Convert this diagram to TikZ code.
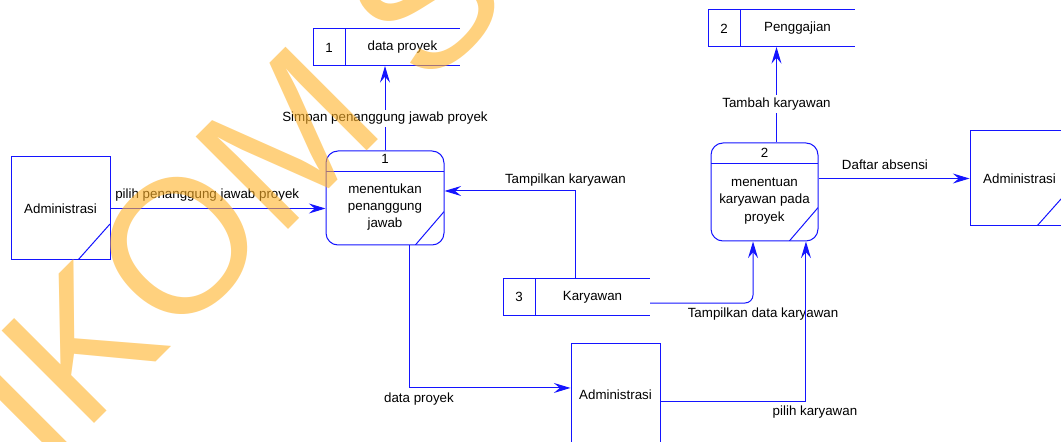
\documentclass[tikz,border=0pt]{standalone}
\usepackage{fontspec}
\setmainfont{Liberation Sans}
\usepackage{tikz}
\usetikzlibrary{arrows.meta,positioning}

\definecolor{dfdblue}{RGB}{20,20,255}
\definecolor{wmorange}{RGB}{255,178,40}

\tikzset{
  flow/.style={draw=dfdblue, line width=0.75pt, -{Stealth[length=12.5pt,width=7.5pt,inset=4.5pt]}},
  entity/.style={draw=dfdblue, line width=0.75pt, minimum width=74.25pt, minimum height=77.25pt, inner sep=0pt},
  entitycorner/.style={path picture={\draw[dfdblue, line width=0.75pt] ([xshift=-24pt]path picture bounding box.south east) -- ([yshift=27pt]path picture bounding box.south east);}},
  process/.style={draw=dfdblue, line width=0.75pt, rounded corners=9pt, inner sep=0pt,
    path picture={
      \draw[dfdblue, line width=0.75pt] ([yshift=-15.5pt]path picture bounding box.north west) -- ([yshift=-15.5pt]path picture bounding box.north east);
      \draw[dfdblue, line width=0.75pt] ([xshift=-21.5pt]path picture bounding box.south east) -- ([yshift=25pt]path picture bounding box.south east);}},
  proctext/.style={align=center, font=\fontsize{10}{13}\selectfont},
  storenum/.style={draw=dfdblue, line width=0.75pt, minimum width=24pt, minimum height=27.75pt, inner sep=0pt, outer sep=0pt},
  storename/.style={minimum width=86.25pt, minimum height=27.75pt, inner sep=0pt, outer sep=0pt,
    append after command={\pgfextra{\draw[dfdblue, line width=0.75pt] (\tikzlastnode.north west) -- (\tikzlastnode.north east) (\tikzlastnode.south west) -- (\tikzlastnode.south east);}}},
  wmark/.style={rotate=45, scale=14.25, inner sep=0pt, text=wmorange, text opacity=0.6, font=\fontsize{10}{12}\selectfont}
}

\begin{document}
\begin{tikzpicture}[x=0.75pt,y=-0.75pt]
    % Page size
    \useasboundingbox (0,0) rectangle (1061,442);
    \clip (0,0) rectangle (1061,442);

    % External entities
    \node[entity, entitycorner] (admA) at (60.5,208.5) {Administrasi};
    \node[entity, entitycorner, minimum height=71.25pt] (admB) at (1019.5,178.5) {Administrasi};
    \node[entity, minimum width=66.75pt] (admC) at (615.5,394.5) {Administrasi};

    % Process 1
    \node[process, minimum width=88.5pt, minimum height=70.5pt] (p1) at (385,198) {};
    \node (p1num) at ([yshift=-6.5pt]p1.north) {1};
    \node[proctext] (p1txt) at ([yshift=-6.75pt]p1.center) {menentukan\\penanggung\\jawab};

    % Process 2
    \node[process, minimum width=80.25pt, minimum height=73.5pt] (p2) at (764.5,192) {};
    \node (p2num) at ([yshift=-7.5pt]p2.north) {2};
    \node[proctext] (p2txt) at ([yshift=-6.75pt]p2.center) {menentuan\\karyawan pada\\proyek};

    % Data stores
    \node[storenum] (s1num) at (329,47.5) {1};
    \node[storename, right=0pt of s1num] (s1) {data proyek};
    \node[storenum] (s2num) at (724,28.5) {2};
    \node[storename, right=0pt of s2num] (s2) {Penggajian};
    \node[storenum] (s3num) at (519,297) {3};
    \node[storename, right=0pt of s3num] (s3) {Karyawan};

    % Flows of process 1
    \draw[flow] (admA.east) -- (admA.east -| p1.west)
        node[pos=0.45, above=2pt] {pilih penanggung jawab proyek};
    \draw[flow] (p1.north) -- (p1.north |- s1.south)
        node[pos=0.38, fill=white, inner sep=2pt] {Simpan penanggung jawab proyek};
    \draw[flow] ([xshift=-12.4pt]s3.north) |- ([yshift=5.25pt]p1.east)
        node[pos=0.54, above] {Tampilkan karyawan};
    \draw[flow] ([xshift=18pt]p1.south) |- ([yshift=4.9pt]admC.west)
        node[pos=0.5, below, xshift=7.5pt] {data proyek};

    % Flows of process 2
    \draw[flow] ([xshift=9pt]p2.north) -- ([xshift=9pt]p2.north |- s2.south)
        node[pos=0.4, fill=white, inner sep=2pt] {Tambah karyawan};
    \draw[flow] (p2.east |- admB.west) -- (admB.west)
        node[pos=0.44, above=3pt] {Daftar absensi};
    \draw[flow, rounded corners=6pt] ([yshift=-4.5pt]s3.east) -| ([xshift=-8.6pt]p2.south)
        node[pos=0.5, below, xshift=7.5pt] {Tampilkan data karyawan};
    \draw[flow] ([yshift=-4.9pt]admC.east) -| ([xshift=31.1pt]p2.south)
        node[pos=0.5, below, xshift=6.75pt] {pilih karyawan};

    % Watermark
    \node[wmark, anchor=base west] (wm) at (-128,646) {STIKOM SURABAYA};
\end{tikzpicture}
\end{document}
